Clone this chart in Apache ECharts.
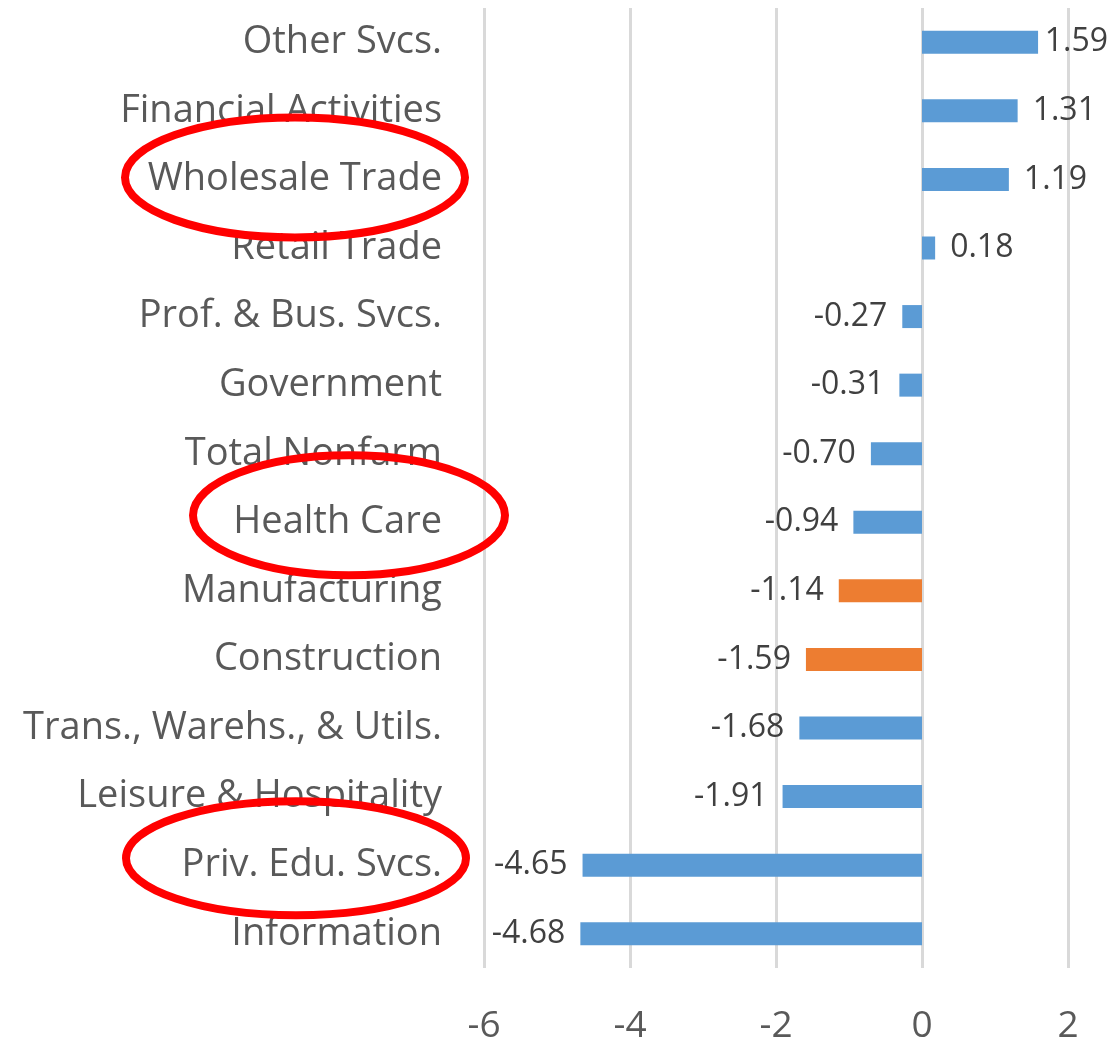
<!DOCTYPE html>
<html>
<head>
<meta charset="utf-8">
<script src="https://cdn.jsdelivr.net/npm/echarts@6/dist/echarts.min.js"></script>
<style>
	html,body{margin:0;padding:0;background:#fff;}
	#main{width:1112px;height:1041px;}
</style>
</head>
<body>
<div id="main"></div>
<script>
// categories top to bottom
var categories = ['Other Svcs.', 'Financial Activities', 'Wholesale Trade', 'Retail Trade',
	'Prof. & Bus. Svcs.', 'Government', 'Total Nonfarm', 'Health Care', 'Manufacturing',
	'Construction', 'Trans., Warehs., & Utils.', 'Leisure & Hospitality', 'Priv. Edu. Svcs.', 'Information'];
var values = [1.59, 1.31, 1.19, 0.18, -0.27, -0.31, -0.70, -0.94, -1.14, -1.59, -1.68, -1.91, -4.65, -4.68];
var highlighted = ['Manufacturing', 'Construction'];
var circled = ['Wholesale Trade', 'Health Care', 'Priv. Edu. Svcs.'];
var xTicks = [-6, -4, -2, 0, 2];

var barData = [];
for (var i = 0; i < values.length; i++) {
	var orange = highlighted.indexOf(categories[i]) >= 0;
	barData.push({
		value: values[i],
		itemStyle: { color: orange ? '#ED7D31' : '#5B9BD5' },
		label: { position: values[i] < 0 ? 'left' : 'right' }
	});
}

var W = 1112;
var myChart = echarts.init(document.getElementById('main'));
var option = {
	animation: false,
	grid: { left: 484, right: 44, top: 8, bottom: 73, outerBoundsMode: 'none' },
	xAxis: {
		type: 'value',
		min: xTicks[0],
		max: xTicks[xTicks.length - 1],
		interval: 2,
		axisLine: { show: false },
		axisTick: { show: false },
		splitLine: { lineStyle: { color: '#D9D9D9', width: 3 } },
		axisLabel: { fontFamily: 'Open Sans', fontSize: 37, color: '#595959', margin: 40 }
	},
	yAxis: {
		type: 'category',
		inverse: true,
		data: categories,
		axisLine: { show: false },
		axisTick: { show: false },
		axisLabel: { fontFamily: 'Open Sans', fontSize: 38, color: '#595959', margin: 42 }
	},
	series: [{
		type: 'bar',
		data: barData,
		barWidth: 23,
		label: {
			show: true,
			distance: 15,
			fontFamily: 'Open Sans',
			fontSize: 32,
			color: '#404040',
			formatter: function (p) { return p.value.toFixed(2); }
		},
		// keep labels inside the canvas, like Excel does for the longest bar
		labelLayout: function (p) {
			var r = p.labelRect;
			if (r.x + r.width > W - 4) {
				return {
					x: W - 4 - r.width,
					y: r.y + r.height / 2,
					align: 'left',
					verticalAlign: 'middle'
				};
			}
		}
	}]
};
myChart.setOption(option);

// red annotation ellipses round some category labels
var ellipseShape = {
	'Wholesale Trade': { cx: 295, dy: -2, rx: 170, ry: 60 },
	'Health Care': { cx: 349, dy: -7, rx: 156, ry: 60 },
	'Priv. Edu. Svcs.': { cx: 296, dy: -7, rx: 170, ry: 57 }
};
var graphics = [];
for (var j = 0; j < circled.length; j++) {
	var s = ellipseShape[circled[j]];
	var cy = myChart.convertToPixel({ yAxisIndex: 0 }, circled[j]);
	graphics.push({
		type: 'ellipse',
		shape: { cx: s.cx, cy: cy + s.dy, rx: s.rx, ry: s.ry },
		style: { fill: null, stroke: '#FF0000', lineWidth: 8 },
		z: 100
	});
}
myChart.setOption({ graphic: graphics });
</script>
</body>
</html>
